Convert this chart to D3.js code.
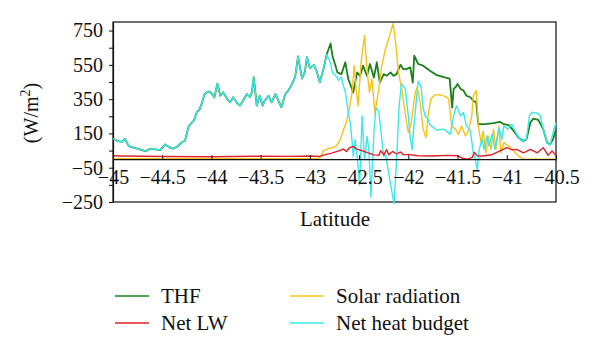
<!DOCTYPE html>
<html><head><meta charset="utf-8">
<script src="https://cdn.jsdelivr.net/npm/d3@7"></script>
<style>
html,body{margin:0;padding:0;background:#fff;}
svg text{font-family:"Liberation Serif","Times New Roman",serif;fill:#111;}
</style></head>
<body><svg id="c" width="600" height="355"></svg>
<script>
// ---- Data ----
// Common part where THF and Net heat budget coincide
const sharedLat = [-45.00,-44.95,-44.91,-44.88,-44.84,-44.79,-44.73,-44.67,-44.62,-44.57,-44.52,-44.47,-44.42,-44.39,-44.34,-44.30,-44.27,-44.23,-44.18,-44.15,-44.12,-44.10,-44.07,-44.03,-44.00,-43.97,-43.94,-43.91,-43.88,-43.84,-43.81,-43.78,-43.74,-43.71,-43.68,-43.64,-43.61,-43.59,-43.57,-43.54,-43.51,-43.48,-43.46,-43.42,-43.39,-43.35,-43.32,-43.29,-43.25,-43.22,-43.18,-43.15,-43.12,-43.08,-43.05,-43.03,-43.00,-42.96,-42.93,-42.90,-42.86];
const sharedVal = [120,106,100,119,76,67,57,47,61,57,53,86,67,61,76,100,106,194,224,272,292,322,380,395,385,360,440,370,390,351,331,361,327,312,341,380,361,390,478,312,370,312,341,370,331,380,341,302,380,400,440,480,600,470,510,595,530,550,510,448,530];

const thfLat = [-42.83,-42.79,-42.77,-42.74,-42.72,-42.68,-42.64,-42.61,-42.59,-42.56,-42.52,-42.49,-42.46,-42.42,-42.39,-42.35,-42.32,-42.29,-42.25,-42.22,-42.18,-42.15,-42.12,-42.08,-42.05,-42.02,-41.98,-41.955,-41.94,-41.90,-41.85,-41.78,-41.71,-41.64,-41.58,-41.555,-41.54,-41.52,-41.50,-41.47,-41.44,-41.41,-41.37,-41.34,-41.31,-41.29,-41.22,-41.135,-41.07,-41.03,-40.98,-40.93,-40.88,-40.83,-40.80,-40.76,-40.73,-40.68,-40.63,-40.59,-40.56,-40.53,-40.50];
const thfVal = [610,675,600,545,506,496,565,467,437,388,506,486,545,486,555,476,565,447,496,486,506,486,496,550,525,525,535,447,604,555,545,516,490,478,470,300,410,419,439,410,400,370,361,341,331,204,204,210,218,204,198,165,125,106,116,214,237,229,175,96,86,116,175];

const nhbLat = [-42.83,-42.79,-42.77,-42.74,-42.71,-42.68,-42.66,-42.64,-42.61,-42.59,-42.57,-42.56,-42.54,-42.52,-42.495,-42.47,-42.445,-42.42,-42.40,-42.38,-42.35,-42.33,-42.30,-42.28,-42.25,-42.23,-42.20,-42.17,-42.145,-42.12,-42.095,-42.07,-42.03,-42.00,-41.98,-41.96,-41.95,-41.93,-41.90,-41.87,-41.85,-41.83,-41.80,-41.78,-41.71,-41.64,-41.575,-41.54,-41.51,-41.47,-41.44,-41.41,-41.37,-41.34,-41.32,-41.30,-41.28,-41.25,-41.23,-41.20,-41.18,-41.15,-41.12,-41.08,-41.05,-41.03,-40.99,-40.95,-40.90,-40.85,-40.80,-40.77,-40.745,-40.69,-40.66,-40.63,-40.59,-40.56,-40.53,-40.50];
const nhbVal = [610,560,500,490,460,480,429,390,272,212,96,16,114,16,-150,251,-4,133,50,-220,150,300,280,170,16,25,-82,-180,-258,-15,300,440,410,250,120,57,150,272,455,420,300,253,233,200,170,175,145,253,312,253,272,194,165,37,-2,-61,57,116,57,135,76,145,57,184,116,194,175,204,145,106,116,253,272,269,253,175,96,81,155,214];

const solarLat = [-45.00,-44.50,-44.00,-43.50,-43.00,-42.92,-42.89,-42.86,-42.82,-42.78,-42.73,-42.69,-42.66,-42.63,-42.60,-42.57,-42.55,-42.53,-42.51,-42.48,-42.445,-42.42,-42.395,-42.37,-42.34,-42.30,-42.27,-42.24,-42.20,-42.155,-42.13,-42.10,-42.07,-42.03,-42.00,-41.97,-41.93,-41.91,-41.88,-41.85,-41.82,-41.80,-41.77,-41.73,-41.68,-41.62,-41.59,-41.56,-41.52,-41.49,-41.46,-41.42,-41.39,-41.355,-41.34,-41.31,-41.29,-41.26,-41.24,-41.21,-41.19,-41.16,-41.135,-41.11,-41.08,-41.06,-41.03,-41.006,-40.98,-40.93,-40.88,-40.83,-40.50];
const solarVal = [3,2,2,2,2,3,15,50,60,65,78,115,170,215,290,400,545,408,310,565,720,525,390,467,271,408,545,624,702,790,682,506,420,260,155,214,390,419,331,175,125,253,351,375,375,365,350,194,175,145,194,135,165,253,370,400,194,96,165,37,135,57,175,57,194,37,96,86,76,47,18,0,0];

const lwLat = [-45.00,-44.90,-44.50,-44.00,-43.50,-43.20,-43.00,-42.90,-42.85,-42.78,-42.72,-42.66,-42.63,-42.60,-42.56,-42.53,-42.50,-42.45,-42.40,-42.35,-42.30,-42.28,-42.25,-42.22,-42.20,-42.16,-42.12,-42.08,-42.05,-42.00,-41.90,-41.80,-41.70,-41.60,-41.50,-41.45,-41.40,-41.35,-41.33,-41.30,-41.25,-41.15,-41.00,-40.95,-40.90,-40.83,-40.76,-40.69,-40.63,-40.58,-40.54,-40.50];
const lwVal = [20,18,15,14,17,16,18,16,25,35,45,59,45,65,75,60,55,45,35,25,22,50,25,55,25,45,30,42,25,28,20,18,20,22,20,5,0,10,40,20,18,26,67,55,57,37,57,37,67,22,47,22];

const yTicks = [-250,-150,-50,50,150,250,350,450,550,650,750];
const yLabelled = [-250,-50,150,350,550,750];
const xTicks = [-45,-44.5,-44,-43.5,-43,-42.5,-42,-41.5,-41,-40.5];

const seriesNames = ["THF","Net LW","Solar radiation","Net heat budget"];
const seriesColors = {"THF":"#1c801c","Net LW":"#e0222a","Solar radiation":"#f7c31a","Net heat budget":"#3ce8ea"};

// ---- Build ----
const zip = (a,b)=>a.map((d,i)=>({lat:d,v:b[i]}));
const thf = zip(sharedLat.concat(thfLat), sharedVal.concat(thfVal));
const nhb = zip(sharedLat.concat(nhbLat), sharedVal.concat(nhbVal));
const solar = zip(solarLat, solarVal);
const lw = zip(lwLat, lwVal);

const svg = d3.select("#c");
const L=113, R=556, T=22, B=202;
const x = d3.scaleLinear().domain([-45,-40.5]).range([L,R]);
const y = d3.scaleLinear().domain([-250,800]).range([B,T]);

const minus = s => String(s).replace("-","\u2212");

// frame
svg.append("rect").attr("x",L).attr("y",T).attr("width",R-L).attr("height",B-T)
  .attr("fill","none").attr("stroke","#111").attr("stroke-width",1.2);

// y axis
const yAx = svg.append("g").attr("transform",`translate(${L},0)`)
  .call(d3.axisLeft(y).tickValues(yTicks).tickSizeInner(4).tickSizeOuter(0).tickPadding(6)
    .tickFormat(d=>yLabelled.includes(d)?minus(d):""));
yAx.select(".domain").attr("stroke","#111").attr("stroke-width",1.2);
yAx.selectAll("line").attr("stroke","#111");
yAx.selectAll("text").style("font-size","20px");

const line = d3.line().x(d=>x(d.lat)).y(d=>y(d.v));
const g = svg.append("g");
g.append("path").datum(thf).attr("d",line).attr("fill","none")
  .attr("stroke",seriesColors["THF"]).attr("stroke-width",1.8).attr("stroke-linejoin","round");
g.append("path").datum(solar).attr("d",line).attr("fill","none")
  .attr("stroke",seriesColors["Solar radiation"]).attr("stroke-width",1.4).attr("stroke-linejoin","round");
g.append("path").datum(nhb).attr("d",line).attr("fill","none")
  .attr("stroke",seriesColors["Net heat budget"]).attr("stroke-width",1.4).attr("stroke-linejoin","round");
g.append("path").datum(lw).attr("d",line).attr("fill","none")
  .attr("stroke",seriesColors["Net LW"]).attr("stroke-width",1.4).attr("stroke-linejoin","round");

// x axis at zero
const xAx = svg.append("g").attr("transform",`translate(0,${y(0)})`)
  .call(d3.axisBottom(x).tickValues(xTicks).tickSizeInner(-4).tickSizeOuter(0).tickPadding(11)
    .tickFormat(d=>minus(d)));
xAx.select(".domain").attr("stroke","#111").attr("stroke-width",1.2);
xAx.selectAll("line").attr("stroke","#111");
xAx.selectAll("text").style("font-size","20px");

// axis titles
svg.append("text").attr("x",335).attr("y",226).attr("text-anchor","middle")
  .style("font-size","21px").text("Latitude");
const yt = svg.append("text").attr("transform","translate(38,113) rotate(-90)")
  .attr("text-anchor","middle").style("font-size","20px");
yt.append("tspan").text("(W/m");
yt.append("tspan").attr("dy",-8).style("font-size","14px").text("2");
yt.append("tspan").attr("dy",8).text(")");

// legend
const legPos = [
  {name:"THF", x:115, y:296},
  {name:"Net LW", x:115, y:323},
  {name:"Solar radiation", x:290, y:296},
  {name:"Net heat budget", x:290, y:323}
];
const lg = svg.append("g");
legPos.forEach(p=>{
  lg.append("line").attr("x1",p.x).attr("x2",p.x+34).attr("y1",p.y).attr("y2",p.y)
    .attr("stroke",seriesColors[p.name]).attr("stroke-width",1.5);
  lg.append("text").attr("x",p.x+46).attr("y",p.y+7).style("font-size","21px").text(p.name);
});
</script></body></html>
